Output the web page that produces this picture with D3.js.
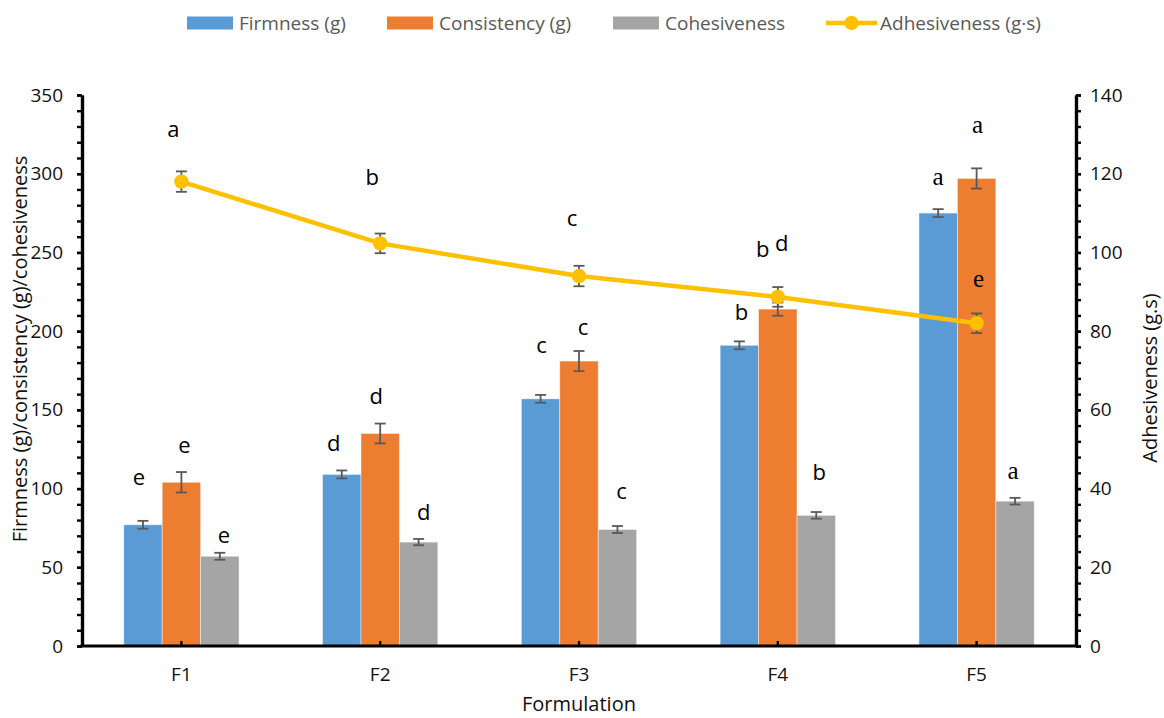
<!DOCTYPE html>
<html>
<head>
<meta charset="utf-8">
<script src="https://cdn.jsdelivr.net/npm/d3@7"></script>
<style>
  html, body { margin: 0; padding: 0; background: #fff; }
  svg { display: block; font-family: "Open Sans", "Noto Sans", sans-serif; }
</style>
</head>
<body>
<svg id="chart" width="1164" height="718"></svg>
<script>
// Texture profile of the five formulations
const categories = ["F1", "F2", "F3", "F4", "F5"];

const firmness       = [77, 109, 157, 191, 275];
const firmnessErr    = [2.5, 2.5, 2.5, 2.5, 2.5];
const consistency    = [104, 135, 181, 214, 297];
const consistencyErr = [6.5, 6.3, 6.4, 4.2, 6.4];
const cohesiveness   = [57, 66, 74, 83, 92];
const cohesivenessErr = [2.2, 2.0, 2.2, 2.1, 2.1];
const adhesiveness    = [118, 102.3, 94, 88.7, 82];
const adhesivenessErr = [2.6, 2.5, 2.6, 2.5, 2.5];

// Significance letters
const firmnessLetters     = ["e", "d", "c", "b", "a"];
const consistencyLetters  = ["e", "d", "c", "b", "a"];
const cohesivenessLetters = ["e", "d", "c", "b", "a"];
const adhesivenessLetters = ["a", "b", "c", "d", "e"];

const leftTicks  = [0, 50, 100, 150, 200, 250, 300, 350];
const rightTicks = [0, 20, 40, 60, 80, 100, 120, 140];

// Letter placement nudges (px) relative to the top of each error bar
const firmnessNudge     = [[-4, -36], [-8, -19], [1, -42], [2, -21], [0, -24]];
const consistencyNudge  = [[3, -19], [-4, -20], [4, -16], [-15, -45], [1, -35]];
const cohesivenessNudge = [[4, -10], [5, -19], [4, -27], [3, -32], [-2, -19]];
const adhesivenessNudge = [[-8, -34], [-8, -49], [-7, -40], [4, -36], [2, -26]];
const letterFont = ["sans", "sans", "sans", "sans", "serif"];

const barSeries = [
  { name: "Firmness (g)",    values: firmness,     err: firmnessErr,     letters: firmnessLetters,     nudge: firmnessNudge,     color: "#5B9BD5" },
  { name: "Consistency (g)", values: consistency,  err: consistencyErr,  letters: consistencyLetters,  nudge: consistencyNudge,  color: "#ED7D31" },
  { name: "Cohesiveness",    values: cohesiveness, err: cohesivenessErr, letters: cohesivenessLetters, nudge: cohesivenessNudge, color: "#A5A5A5" }
];
const lineColor = "#FFC000";
const errColor = "#595959";

const svg = d3.select("#chart");
const plotLeft = 82, plotRight = 1076, plotTop = 95, plotBottom = 646;

const x = d3.scaleBand().domain(categories).range([plotLeft, plotRight]).paddingInner(0).paddingOuter(0);
const groupW = x.bandwidth() * 0.58;
const xs = d3.scaleBand().domain(barSeries.map(d => d.name)).range([-groupW / 2, groupW / 2]);
const yL = d3.scaleLinear().domain([0, 350]).range([plotBottom, plotTop]);
const yR = d3.scaleLinear().domain([0, 140]).range([plotBottom, plotTop]);
const cx = c => x(c) + x.bandwidth() / 2;

// Bars
const gBars = svg.append("g");
barSeries.forEach(s => {
  gBars.selectAll(null).data(categories).enter().append("rect")
    .attr("x", c => cx(c) + xs(s.name))
    .attr("width", xs.bandwidth())
    .attr("y", (c, i) => yL(s.values[i]))
    .attr("height", (c, i) => plotBottom - yL(s.values[i]))
    .attr("fill", s.color)
    .attr("stroke", "rgba(255,255,255,0.55)")
    .attr("stroke-width", 0.8);
});

// Error bars helper
function errorBar(g, xc, yTop, yBot) {
  const cap = 5.5;
  g.append("line").attr("x1", xc).attr("x2", xc).attr("y1", yTop).attr("y2", yBot);
  g.append("line").attr("x1", xc - cap).attr("x2", xc + cap).attr("y1", yTop).attr("y2", yTop);
  g.append("line").attr("x1", xc - cap).attr("x2", xc + cap).attr("y1", yBot).attr("y2", yBot);
}
const gErr = svg.append("g").attr("stroke", errColor).attr("stroke-width", 1.8);
barSeries.forEach(s => {
  categories.forEach((c, i) => {
    const xc = cx(c) + xs(s.name) + xs.bandwidth() / 2;
    errorBar(gErr, xc, yL(s.values[i] + s.err[i]), yL(s.values[i] - s.err[i]));
  });
});

// Bottom axis line
const axisColor = "#000";
svg.append("line").attr("x1", plotLeft - 1.5).attr("x2", plotRight + 1.5)
  .attr("y1", plotBottom).attr("y2", plotBottom)
  .attr("stroke", axisColor).attr("stroke-width", 3.2);

// Adhesiveness line
const line = d3.line().x((d, i) => cx(categories[i])).y(d => yR(d));
svg.append("path").datum(adhesiveness)
  .attr("d", line).attr("fill", "none")
  .attr("stroke", lineColor).attr("stroke-width", 4.5)
  .attr("stroke-linejoin", "round");
const gLineErr = svg.append("g").attr("stroke", errColor).attr("stroke-width", 1.8);
categories.forEach((c, i) => {
  errorBar(gLineErr, cx(c), yR(adhesiveness[i] + adhesivenessErr[i]), yR(adhesiveness[i] - adhesivenessErr[i]));
});
svg.selectAll(null).data(adhesiveness).enter().append("circle")
  .attr("cx", (d, i) => cx(categories[i])).attr("cy", d => yR(d))
  .attr("r", 7.2).attr("fill", lineColor);

// Significance letters
const gLetters = svg.append("g").attr("fill", "#000").attr("text-anchor", "middle");
function letter(txt, px, py, font) {
  gLetters.append("text").attr("x", px).attr("y", py).text(txt)
    .attr("font-family", font === "serif" ? "'Liberation Serif', 'DejaVu Serif', serif" : "'Open Sans', sans-serif")
    .attr("font-size", font === "serif" ? 25 : 22);
}
barSeries.forEach(s => {
  categories.forEach((c, i) => {
    const xc = cx(c) + xs(s.name) + xs.bandwidth() / 2;
    const yt = yL(s.values[i] + s.err[i]);
    letter(s.letters[i], xc + s.nudge[i][0], yt + s.nudge[i][1], letterFont[i]);
  });
});
categories.forEach((c, i) => {
  const yt = yR(adhesiveness[i] + adhesivenessErr[i]);
  letter(adhesivenessLetters[i], cx(c) + adhesivenessNudge[i][0], yt + adhesivenessNudge[i][1], letterFont[i]);
});

// Left axis
const leftMinor = d3.range(0, 351, 10);
const gLeft = svg.append("g").attr("transform", `translate(${plotLeft},0)`);
gLeft.call(d3.axisLeft(yL).tickValues(leftMinor).tickSizeInner(5).tickSizeOuter(0).tickFormat(""));
const gLeftMajor = svg.append("g").attr("transform", `translate(${plotLeft},0)`);
gLeftMajor.call(d3.axisLeft(yL).tickValues(leftTicks).tickSizeInner(5).tickSizeOuter(0).tickPadding(14));
[gLeft, gLeftMajor].forEach(g => {
  g.selectAll(".domain").attr("stroke", axisColor).attr("stroke-width", 3.2);
  g.selectAll(".tick line").attr("stroke", axisColor).attr("stroke-width", 2.4);
  g.selectAll("text").attr("font-size", 19).attr("fill", "#111").attr("font-family", "'Open Sans', sans-serif");
});

// Right axis
const rightMinor = d3.range(0, 141, 4);
const gRight = svg.append("g").attr("transform", `translate(${plotRight},0)`);
gRight.call(d3.axisRight(yR).tickValues(rightMinor).tickSizeInner(5).tickSizeOuter(0).tickFormat(""));
const gRightMajor = svg.append("g").attr("transform", `translate(${plotRight},0)`);
gRightMajor.call(d3.axisRight(yR).tickValues(rightTicks).tickSizeInner(5).tickSizeOuter(0).tickPadding(9));
[gRight, gRightMajor].forEach(g => {
  g.selectAll(".domain").attr("stroke", axisColor).attr("stroke-width", 3.2);
  g.selectAll(".tick line").attr("stroke", axisColor).attr("stroke-width", 2.4);
  g.selectAll("text").attr("font-size", 19).attr("fill", "#111").attr("font-family", "'Open Sans', sans-serif");
});

// Category axis labels with short inward ticks
const gBottom = svg.append("g").attr("transform", `translate(0,${plotBottom})`);
gBottom.call(d3.axisBottom(x).tickSizeInner(-5).tickSizeOuter(0).tickPadding(22));
gBottom.select(".domain").remove();
gBottom.selectAll(".tick line").attr("stroke", axisColor).attr("stroke-width", 2.4);
gBottom.selectAll("text").attr("font-size", 19).attr("fill", "#111").attr("font-family", "'Open Sans', sans-serif");

// Axis titles
svg.append("text").attr("x", (plotLeft + plotRight) / 2).attr("y", 711)
  .attr("text-anchor", "middle").attr("font-size", 20).attr("fill", "#111")
  .text("Formulation");
svg.append("text").attr("transform", "translate(27,349) rotate(-90)")
  .attr("text-anchor", "middle").attr("font-size", 20).attr("fill", "#111")
  .text("Firmness (g)/consistency (g)/cohesiveness");
svg.append("text").attr("transform", "translate(1157,378) rotate(-90)")
  .attr("text-anchor", "middle").attr("font-size", 20).attr("fill", "#111")
  .text("Adhesiveness (g.s)");

// Legend
const legend = svg.append("g").attr("font-size", 19).attr("fill", "#595959");
const legendX = [187, 387, 613];
barSeries.forEach((s, i) => {
  legend.append("rect").attr("x", legendX[i]).attr("y", 16.5).attr("width", 46).attr("height", 13).attr("fill", s.color);
  legend.append("text").attr("x", legendX[i] + 52).attr("y", 23).attr("dy", "0.35em").text(s.name);
});
legend.append("line").attr("x1", 826).attr("x2", 877).attr("y1", 23).attr("y2", 23)
  .attr("stroke", lineColor).attr("stroke-width", 4.5);
legend.append("circle").attr("cx", 851.5).attr("cy", 23).attr("r", 7.2).attr("fill", lineColor);
legend.append("text").attr("x", 880).attr("y", 23).attr("dy", "0.35em").text("Adhesiveness (g·s)");
</script>
</body>
</html>
